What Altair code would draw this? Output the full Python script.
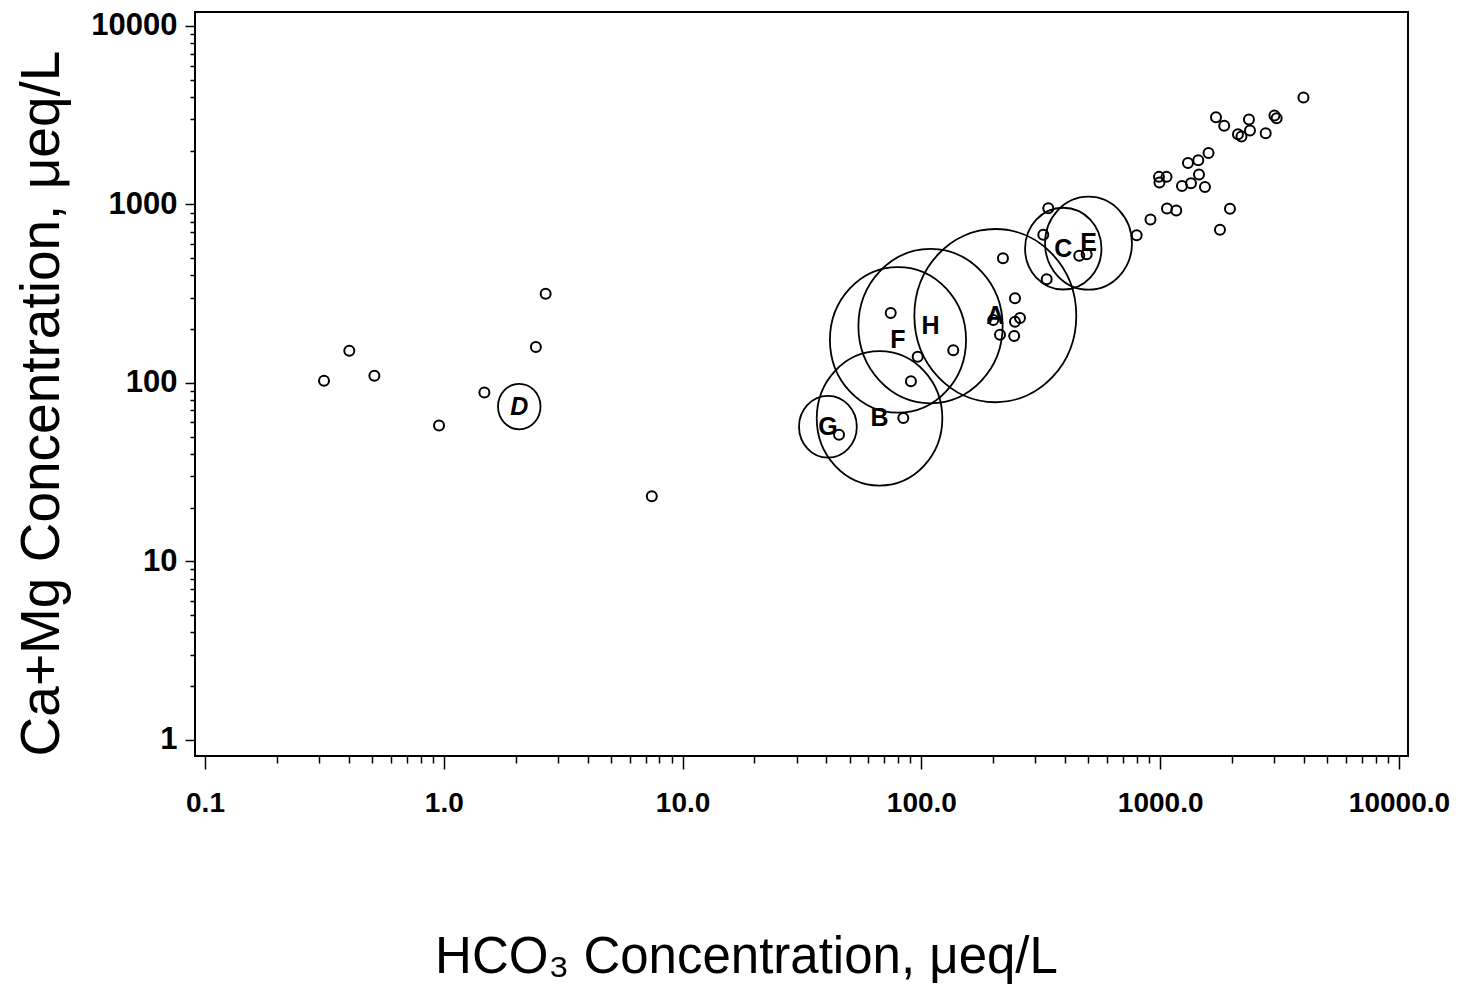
import math
import altair as alt
import pandas as pd

# ---- individual samples (HCO3 vs Ca+Mg, ueq/L) ----
hco3 = [797.2, 910.8, 1067.8, 1168, 1780, 1960, 988.6, 993, 1063, 1234, 1346, 1454, 1540,
        1307, 1444, 1594, 1713, 1854, 2117, 2190, 2354, 2377, 2766, 3010, 3074, 3981,
        219.6, 246.6, 200, 246.6, 258.8, 213.4, 244.7, 340.0, 324.0, 334.8, 458.3, 492.2,
        74.4, 96.5, 136.0, 90.4, 84.0, 45.2,
        0.315, 0.402, 0.512, 0.955, 1.479, 2.43, 2.67, 7.43]
camg = [672, 822, 947, 923, 720, 944, 1426, 1328, 1426, 1269, 1315, 1469, 1253,
        1708, 1768, 1943, 3079, 2754, 2474, 2398, 2993, 2598, 2506, 3152, 3040, 3966,
        499, 298, 225, 220, 231, 186, 183, 952, 675, 381, 515, 526,
        246, 140, 152, 102, 63.4, 51.1,
        102.6, 151, 109.5, 57.6, 88.3, 158.5, 316, 23.1]

# ---- group means with spread (log10 units) ----
grp_label = ["A", "B", "C", "D", "E", "F", "G", "H"]
grp_hco3 = [204, 66.8, 392.8, 2.07, 501, 79.8, 40.6, 109.2]
grp_camg = [237.9, 63.2, 564.8, 73.6, 606, 174, 56.7, 207.8]
grp_spread = [0.339, 0.263, 0.160, 0.089, 0.182, 0.285, 0.121, 0.302]

# ---- axes ----
x_major = [0.1, 1, 10, 100, 1000, 10000]
x_labels = ["0.1", "1.0", "10.0", "100.0", "1000.0", "10000.0"]
y_major = [1, 10, 100, 1000, 10000]
y_labels = ["1", "10", "100", "1000", "10000"]
x_domain = [0.0908, 10910]
y_domain = [0.81, 11970]

W, H = 1213, 744
px_per_decade = W / (math.log10(x_domain[1]) - math.log10(x_domain[0]))

x_ticks = [m * d for d in x_major for m in range(1, 10) if m * d <= x_domain[1]]
y_ticks = [m * d for d in y_major for m in range(1, 10) if m * d <= y_domain[1]]


def label_expr(vals, labs):
    e = "''"
    for v, l in reversed(list(zip(vals, labs))):
        e = f"abs(datum.value - {v}) < {v * 1e-6} ? '{l}' : ({e})"
    return e


decade_test = "abs(log(datum.value)/LN10 - round(log(datum.value)/LN10)) < 0.001"

pts = pd.DataFrame({"hco3": hco3, "camg": camg})
grp = pd.DataFrame({"label": grp_label, "hco3": grp_hco3, "camg": grp_camg, "spread": grp_spread})

FONT = "Liberation Sans"

xenc = alt.X(
    "hco3:Q",
    scale=alt.Scale(type="log", domain=x_domain, nice=False),
    axis=alt.Axis(
        values=x_ticks,
        labelExpr=label_expr(x_major, x_labels),
        tickSize={"condition": {"test": decade_test, "value": 13}, "value": 7},
        tickWidth=1.5,
        tickColor="black",
        labelPadding=20,
        labelOverlap=False,
        labelFlush=False,
        labelFont=FONT,
        labelFontSize=28,
        labelFontWeight="bold",
        labelColor="black",
        domain=False,
        grid=False,
        title="HCO₃ Concentration, μeq/L",
        titleFont=FONT,
        titleFontSize=51,
        titleFontWeight="normal",
        titleColor="black",
        titleAlign="center",
        titleBaseline="alphabetic",
        titleX=551,
        titleY=216,
    ),
)
yenc = alt.Y(
    "camg:Q",
    scale=alt.Scale(type="log", domain=y_domain, nice=False),
    axis=alt.Axis(
        values=y_ticks,
        labelExpr=label_expr(y_major, y_labels),
        tickSize={"condition": {"test": decade_test, "value": 10}, "value": 5},
        tickWidth=1.5,
        tickColor="black",
        labelPadding=8,
        labelOverlap=False,
        labelFlush=False,
        labelFont=FONT,
        labelFontSize=31,
        labelFontWeight="bold",
        labelColor="black",
        domain=False,
        grid=False,
        title="Ca+Mg Concentration, μeq/L",
        titleFont=FONT,
        titleFontSize=55,
        titleFontWeight="normal",
        titleColor="black",
        titleAngle=270,
        titleAlign="center",
        titleBaseline="alphabetic",
        titleX=-137,
        titleY=391,
    ),
)

small = alt.Chart(pts).mark_point(
    shape="circle", filled=False, color="black", size=100, strokeWidth=2, opacity=1
).encode(x=xenc, y=yenc)

ellipse = ("M1,0 C1,0.591 0.5523,1.07 0,1.07 C-0.5523,1.07 -1,0.591 -1,0 "
           "C-1,-0.591 -0.5523,-1.07 0,-1.07 C0.5523,-1.07 1,-0.591 1,0 Z")

big = alt.Chart(grp).mark_point(
    shape=ellipse, filled=False, color="black", strokeWidth=1.8, opacity=1
).encode(
    x="hco3:Q",
    y="camg:Q",
    size=alt.Size(
        "spread:Q",
        scale=alt.Scale(type="pow", exponent=2, domain=[0, 1], range=[0, (2 * px_per_decade) ** 2]),
        legend=None,
    ),
)

labels = alt.Chart(grp).transform_filter("datum.label != 'D'").mark_text(
    font=FONT, fontSize=25, fontWeight="bold", color="black", align="center", baseline="middle"
).encode(x="hco3:Q", y="camg:Q", text="label:N")

label_d = alt.Chart(grp).transform_filter("datum.label == 'D'").mark_text(
    font=FONT, fontSize=25, fontWeight="bold", fontStyle="italic", color="black",
    align="center", baseline="middle"
).encode(x="hco3:Q", y="camg:Q", text="label:N")

chart = alt.layer(small, big, labels, label_d).properties(
    width=W,
    height=H,
    autosize=alt.AutoSizeParams(type="none"),
    padding={"left": 187, "top": 4, "right": 43, "bottom": 228},
    background="white",
).configure_view(stroke="black", strokeWidth=2)

chart.save("out.html", embed_options={"renderer": "svg", "actions": False})
